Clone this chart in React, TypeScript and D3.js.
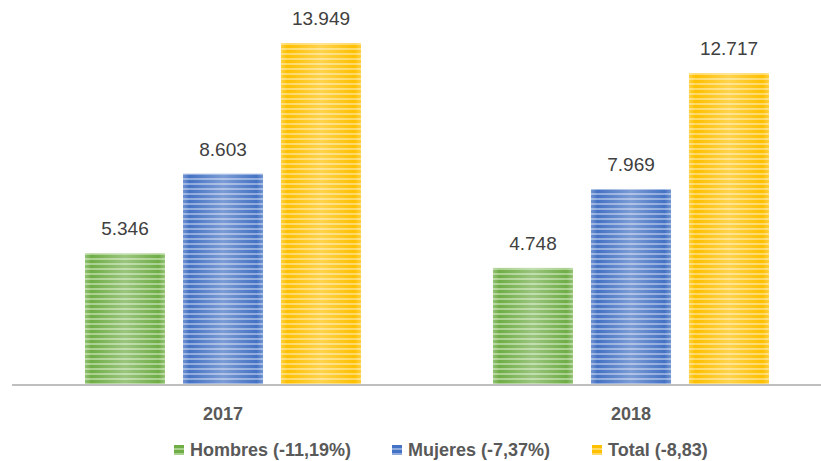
import { useEffect, useRef } from "react"
import * as d3 from "d3"

const years = ["2017", "2018"]
const seriesNames = ["Hombres", "Mujeres", "Total"]
const legendLabels = ["Hombres (-11,19%)", "Mujeres (-7,37%)", "Total (-8,83)"]
const hombres = [5346, 4748]
const mujeres = [8603, 7969]
const total = [13949, 12717]

const colors = ["#70AD47", "#4472C4", "#FFC000"]
const lightColors = ["#A9D18E", "#8FAADC", "#FFD966"]

export default function App() {
  const svgRef = useRef<SVGSVGElement>(null)

  useEffect(() => {
    if (!svgRef.current) return
    document.body.style.margin = "0"
    d3.select(svgRef.current).selectAll("*").remove()

    const width = 821
    const height = 461
    const svg = d3.select(svgRef.current).attr("width", width).attr("height", height)

    const values = [hombres, mujeres, total]
    const rows = years.map((y, i) => ({
      year: y,
      items: seriesNames.map((s, j) => ({ series: s, idx: j, value: values[j][i] })),
    }))

    const x0 = d3.scaleBand().domain(years).range([19, 835]).padding(0)
    const x1 = d3
      .scaleBand()
      .domain(seriesNames)
      .range([0, x0.bandwidth()])
      .paddingInner(0.184)
      .paddingOuter(0.673)
    const y = d3.scaleLinear().domain([0, 13949]).range([384, 43])

    // striped patterns + glow
    const defs = svg.append("defs")
    colors.forEach((c, i) => {
      const p = defs
        .append("pattern")
        .attr("id", `stripe${i}`)
        .attr("patternUnits", "userSpaceOnUse")
        .attr("width", 10)
        .attr("height", 5)
      p.append("rect").attr("width", 10).attr("height", 5).attr("fill", lightColors[i])
      p.append("rect").attr("width", 10).attr("height", 3).attr("fill", c)
    })
    const glow = defs
      .append("linearGradient")
      .attr("id", "glow")
      .attr("x1", "0%")
      .attr("x2", "100%")
    glow.append("stop").attr("offset", "0%").attr("stop-color", "#fff").attr("stop-opacity", 0.25)
    glow.append("stop").attr("offset", "8%").attr("stop-color", "#fff").attr("stop-opacity", 0)
    glow.append("stop").attr("offset", "50%").attr("stop-color", "#fff").attr("stop-opacity", 0.3)
    glow.append("stop").attr("offset", "92%").attr("stop-color", "#fff").attr("stop-opacity", 0)
    glow.append("stop").attr("offset", "100%").attr("stop-color", "#fff").attr("stop-opacity", 0.25)

    const groups = svg
      .selectAll(".grp")
      .data(rows)
      .enter()
      .append("g")
      .attr("transform", (d) => `translate(${x0(d.year)},0)`)

    const bars = groups
      .selectAll(".bar")
      .data((d) => d.items)
      .enter()
      .append("g")

    bars
      .append("rect")
      .attr("x", (d) => x1(d.series)!)
      .attr("y", (d) => y(d.value))
      .attr("width", x1.bandwidth())
      .attr("height", (d) => y(0) - y(d.value))
      .attr("fill", (d) => `url(#stripe${d.idx})`)

    bars
      .append("rect")
      .attr("x", (d) => x1(d.series)!)
      .attr("y", (d) => y(d.value))
      .attr("width", x1.bandwidth())
      .attr("height", (d) => y(0) - y(d.value))
      .attr("fill", "url(#glow)")

    bars
      .append("text")
      .attr("x", (d) => x1(d.series)! + x1.bandwidth() / 2)
      .attr("y", (d) => y(d.value) - 18)
      .attr("text-anchor", "middle")
      .style("font-family", "Liberation Sans, Arial, sans-serif")
      .style("font-size", "19px")
      .style("fill", "#404040")
      .text((d) => d3.format(",")(d.value).replace(",", "."))

    // axis line
    svg
      .append("line")
      .attr("x1", 12)
      .attr("x2", 821)
      .attr("y1", 385)
      .attr("y2", 385)
      .style("stroke", "#BFBFBF")
      .style("stroke-width", 2)

    svg
      .selectAll(".yearLabel")
      .data(years)
      .enter()
      .append("text")
      .attr("x", (d) => x0(d)! + x0.bandwidth() / 2)
      .attr("y", 420)
      .attr("text-anchor", "middle")
      .style("font-family", "Liberation Sans, Arial, sans-serif")
      .style("font-size", "18px")
      .style("font-weight", "bold")
      .style("fill", "#595959")
      .text((d) => d)

    // legend
    const legendX = [174, 392, 592]
    const legend = svg
      .selectAll(".legend")
      .data(legendLabels)
      .enter()
      .append("g")
      .attr("transform", (d, i) => `translate(${legendX[i]},0)`)

    legend
      .append("rect")
      .attr("x", 0)
      .attr("y", 445)
      .attr("width", 10)
      .attr("height", 10)
      .attr("fill", (d, i) => `url(#stripe${i})`)

    legend
      .append("text")
      .attr("x", 16)
      .attr("y", 456)
      .style("font-family", "Liberation Sans, Arial, sans-serif")
      .style("font-size", "18px")
      .style("font-weight", "bold")
      .style("fill", "#595959")
      .text((d) => d)
  }, [])

  return <svg ref={svgRef}></svg>
}
